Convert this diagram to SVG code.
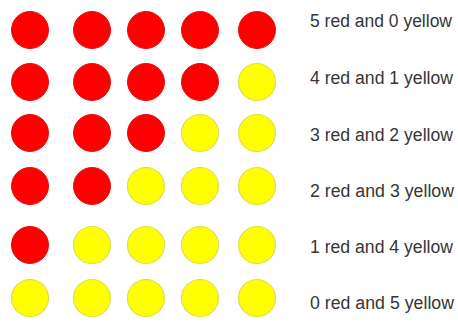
<svg xmlns="http://www.w3.org/2000/svg" width="458" height="321" viewBox="0 0 458 321">
<style>
.r{fill:#ff0000;stroke:#e41010;stroke-width:1}
.y{fill:#ffff00;stroke:#dede50;stroke-width:1.2}
.t{font-family:"Liberation Sans",Arial,sans-serif;font-size:18px;fill:#363636}
</style>
<rect width="458" height="321" fill="#ffffff"/>
<g id="row1">
<circle class="r" cx="30" cy="30" r="18.5"/><circle class="r" cx="92" cy="30" r="18.5"/><circle class="r" cx="146" cy="30" r="18.5"/><circle class="r" cx="200" cy="30" r="18.5"/><circle class="r" cx="257" cy="30" r="18.5"/>
<text class="t" x="310" y="27" textLength="142" lengthAdjust="spacingAndGlyphs">5 red and 0 yellow</text>
</g>
<g id="row2">
<circle class="r" cx="30" cy="82" r="18.5"/><circle class="r" cx="92" cy="82" r="18.5"/><circle class="r" cx="146" cy="82" r="18.5"/><circle class="r" cx="200" cy="82" r="18.5"/><circle class="y" cx="257" cy="82" r="18.5"/>
<text class="t" x="310" y="84" textLength="143" lengthAdjust="spacingAndGlyphs">4 red and 1 yellow</text>
</g>
<g id="row3">
<circle class="r" cx="30" cy="133" r="18.5"/><circle class="r" cx="92" cy="133" r="18.5"/><circle class="r" cx="146" cy="133" r="18.5"/><circle class="y" cx="200" cy="133" r="18.5"/><circle class="y" cx="257" cy="133" r="18.5"/>
<text class="t" x="310" y="141" textLength="143" lengthAdjust="spacingAndGlyphs">3 red and 2 yellow</text>
</g>
<g id="row4">
<circle class="r" cx="30" cy="186" r="18.5"/><circle class="r" cx="92" cy="186" r="18.5"/><circle class="y" cx="146" cy="186" r="18.5"/><circle class="y" cx="200" cy="186" r="18.5"/><circle class="y" cx="257" cy="186" r="18.5"/>
<text class="t" x="310" y="197" textLength="144" lengthAdjust="spacingAndGlyphs">2 red and 3 yellow</text>
</g>
<g id="row5">
<circle class="r" cx="30" cy="245" r="18.5"/><circle class="y" cx="92" cy="245" r="18.5"/><circle class="y" cx="146" cy="245" r="18.5"/><circle class="y" cx="200" cy="245" r="18.5"/><circle class="y" cx="257" cy="245" r="18.5"/>
<text class="t" x="310" y="253" textLength="143" lengthAdjust="spacingAndGlyphs">1 red and 4 yellow</text>
</g>
<g id="row6">
<circle class="y" cx="30" cy="298" r="18.5"/><circle class="y" cx="92" cy="298" r="18.5"/><circle class="y" cx="146" cy="298" r="18.5"/><circle class="y" cx="200" cy="298" r="18.5"/><circle class="y" cx="257" cy="298" r="18.5"/>
<text class="t" x="310" y="309" textLength="144" lengthAdjust="spacingAndGlyphs">0 red and 5 yellow</text>
</g>
<g id="connectors"/>
</svg>
